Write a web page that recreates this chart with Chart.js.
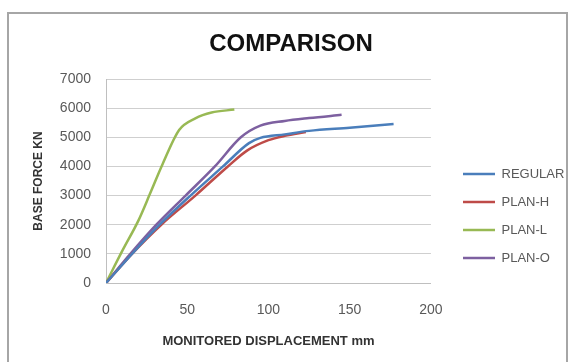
<!DOCTYPE html>
<html>
<head>
<meta charset="utf-8">
<script src="https://cdn.jsdelivr.net/npm/chart.js@4"></script>
<style>
  html, body { margin: 0; padding: 0; background: #fff; overflow: hidden; }
  #wrap { position: relative; width: 572px; height: 362px; }
  #frame { position: absolute; left: 7px; top: 12px; width: 561px; height: 400px; border: 2px solid #a6a6a6; box-sizing: border-box; }
  #wrap canvas { position: absolute; left: 0; top: 0; }
</style>
</head>
<body>
<div id="wrap">
  <div id="frame"></div>
  <canvas id="comparisonChart"></canvas>
</div>
<script>
// 系列ごとの値 (変位 mm / ベースフォース kN)
var seriesNames = ["REGULAR", "PLAN-H", "PLAN-L", "PLAN-O"];
var regularX = [0, 16, 33, 52, 72, 88, 95, 110, 125, 150, 177];
var regularY = [0, 1000, 2000, 3000, 4000, 4800, 4980, 5100, 5220, 5330, 5460];
var planHX = [0, 16, 34, 55, 75, 87, 100, 110, 123];
var planHY = [0, 1000, 2000, 3000, 4000, 4550, 4900, 5050, 5180];
var planLX = [0, 10, 20, 27, 35, 45, 55, 65, 79];
var planLY = [0, 1100, 2150, 3050, 4100, 5250, 5650, 5850, 5950];
var planOX = [0, 15, 31, 49, 67, 83, 95, 110, 125, 145];
var planOY = [0, 1000, 2000, 3000, 4000, 5000, 5400, 5560, 5660, 5770];

var seriesColors = ["#4a7ebb", "#be4b48", "#98b954", "#7d60a0"];

// x,y の配列から点の配列を作る
function toPoints(xs, ys) {
  return xs.map(function (x, i) {
    return { x: x, y: ys[i] };
  });
}

function makeDataset(i, xs, ys) {
  return {
    label: seriesNames[i],
    data: toPoints(xs, ys),
    borderColor: seriesColors[i],
    backgroundColor: seriesColors[i],
    borderWidth: 2.5,
    pointRadius: 0,
    cubicInterpolationMode: "monotone",
  };
}

// 凡例をプロットから少し離す
var legendShift = {
  id: "legendShift",
  afterLayout: function (chart) {
    var dx = 463 - 15 - chart.chartArea.right;
    chart.legend.left += dx;
    chart.legend.right += dx;
  },
};

var comparisonConfig = {
  type: "line",
  data: {
    datasets: [
      makeDataset(0, regularX, regularY),
      makeDataset(1, planHX, planHY),
      makeDataset(2, planLX, planLY),
      makeDataset(3, planOX, planOY),
    ],
  },
  options: {
    responsive: true,
    maintainAspectRatio: false,
    animation: false,
    layout: {
      padding: { left: 24.7, right: 14.7, top: 0, bottom: 0 },
    },
    plugins: {
      title: {
        display: true,
        text: "COMPARISON",
        color: "#111",
        font: { family: "'Liberation Sans', Arial, sans-serif", size: 24, weight: "bold" },
        padding: { top: 30, bottom: 20.2 },
      },
      legend: {
        position: "right",
        title: {
          display: true,
          text: " ",
          font: { size: 10, lineHeight: 1 },
          padding: { top: 60, bottom: 0 },
        },
        labels: {
          usePointStyle: true,
          pointStyle: "line",
          pointStyleWidth: 32,
          padding: 15,
          color: "#595959",
          font: { family: "'Liberation Sans', Arial, sans-serif", size: 13 },
        },
      },
      tooltip: { enabled: false },
    },
    scales: {
      x: {
        type: "linear",
        min: 0,
        max: 200,
        ticks: {
          stepSize: 50,
          padding: 18.6,
          color: "#595959",
          font: { family: "'Liberation Sans', Arial, sans-serif", size: 14 },
        },
        grid: { display: false, drawTicks: false },
        border: { display: true, color: "#bfbfbf", width: 1 },
        title: {
          display: true,
          text: "MONITORED DISPLACEMENT mm",
          color: "#333",
          font: { family: "'Liberation Sans', Arial, sans-serif", size: 13, weight: "bold" },
          padding: { top: 0, bottom: 13.2 },
        },
        afterFit: function (scale) {
          scale.height = 79;
        },
      },
      y: {
        min: 0,
        max: 7000,
        ticks: {
          stepSize: 1000,
          padding: 15,
          color: "#595959",
          font: { family: "'Liberation Sans', Arial, sans-serif", size: 14 },
          callback: function (value) {
            return String(value);
          },
        },
        grid: { color: "#cfcfcf", drawTicks: false },
        border: { display: true, color: "#bfbfbf", width: 1 },
        title: {
          display: true,
          text: "BASE FORCE KN",
          color: "#333",
          font: { family: "'Liberation Sans', Arial, sans-serif", size: 12, weight: "bold" },
          padding: { top: 6.6, bottom: 0 },
        },
        afterFit: function (scale) {
          scale.width = 81.3;
        },
      },
    },
  },
  plugins: [legendShift],
};

var comparisonChart = new Chart(document.getElementById("comparisonChart"), comparisonConfig);
</script>
</body>
</html>
